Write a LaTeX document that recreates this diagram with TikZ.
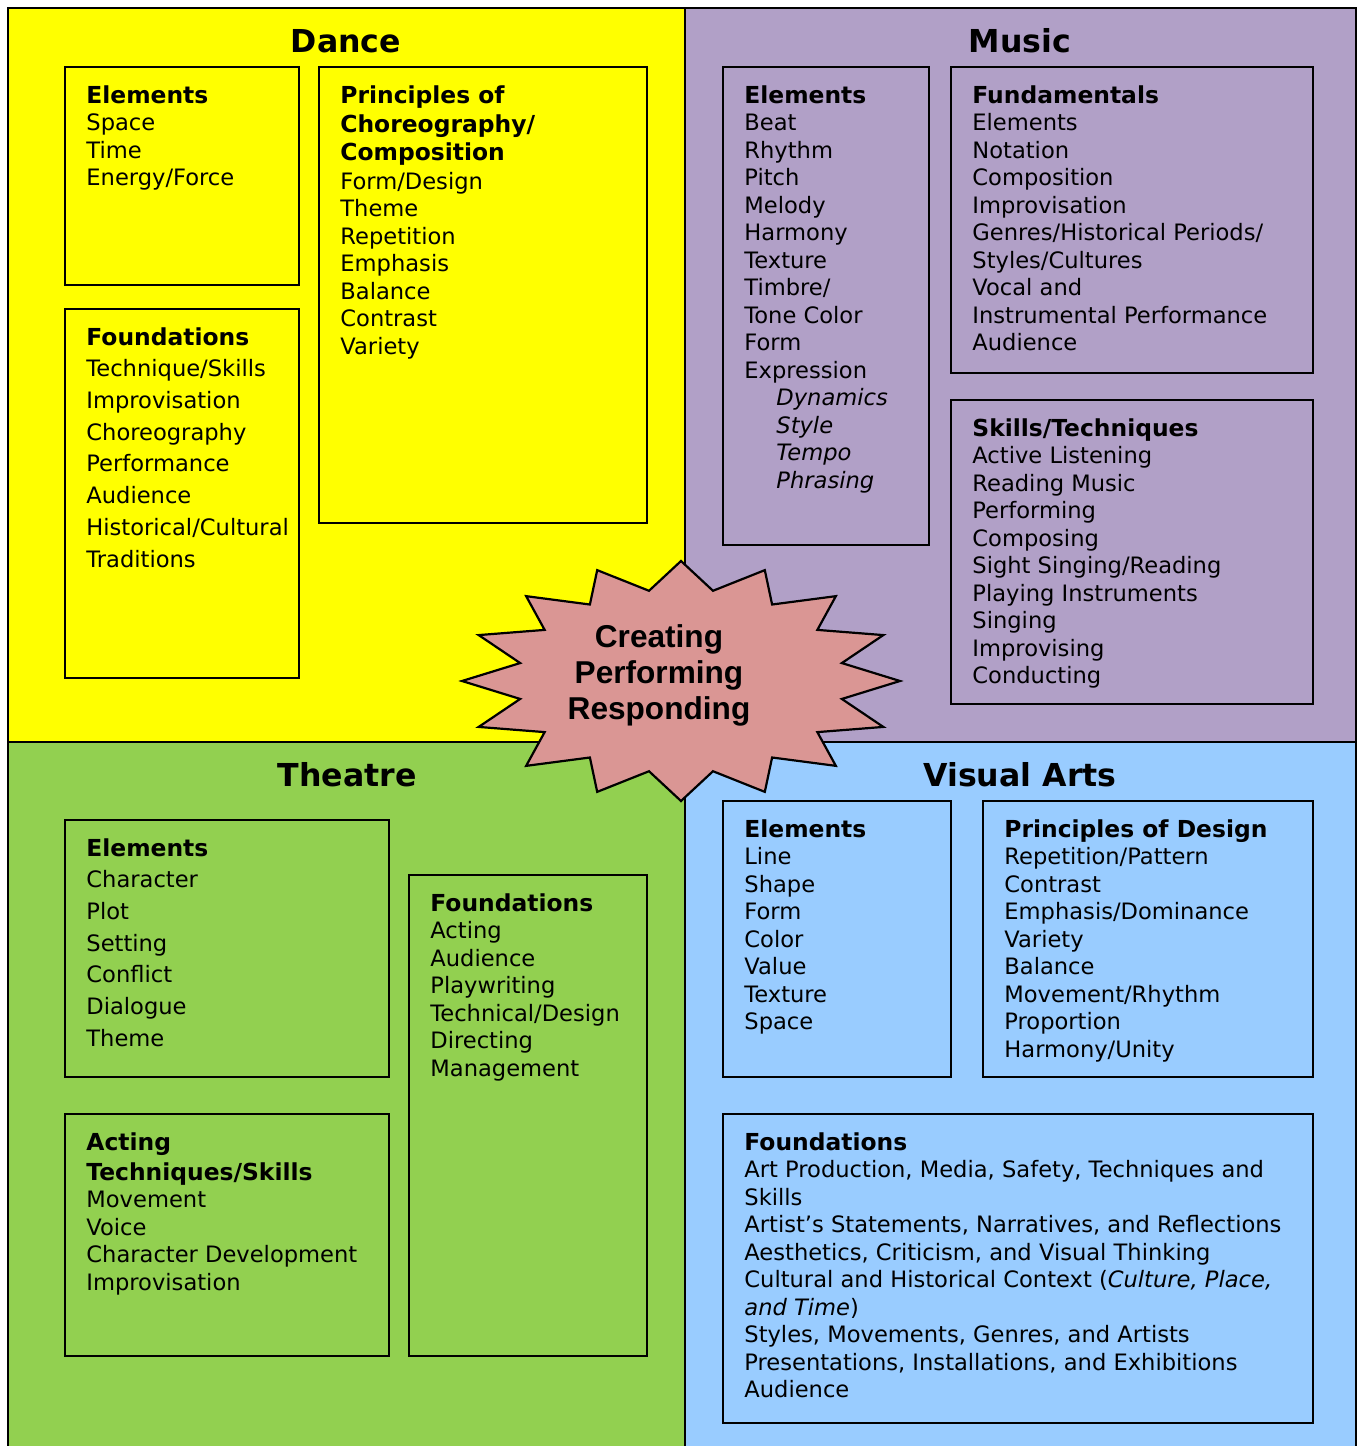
\documentclass[tikz,border=0pt]{standalone}
\usepackage{fontspec}
\setmainfont{DejaVu Sans}
\newfontfamily\hubfont{Liberation Sans}
\usetikzlibrary{positioning}

\definecolor{danceyellow}{HTML}{FFFF00}
\definecolor{musicpurple}{HTML}{B1A0C7}
\definecolor{theatregreen}{HTML}{92D050}
\definecolor{visualblue}{HTML}{99CCFF}
\definecolor{hubpink}{HTML}{DA9694}

% bold first lines of the boxes
\newcommand{\boxhead}[1]{{\fontsize{11.7}{13.75}\selectfont\bfseries #1}}

\begin{document}
\begin{tikzpicture}[x=0.5pt, y=-0.5pt,
		quad/.style={draw, line width=1.3pt},
		box/.style={draw, line width=1.1pt, inner sep=0pt, outer sep=0pt, anchor=north west},
		heading/.style={anchor=base, inner sep=0pt, font=\bfseries\fontsize{15.8}{18}\selectfont},
		list/.style={align=left, inner sep=0pt, font=\fontsize{11.3}{13.75}\selectfont},
		widelist/.style={list, font=\fontsize{11.3}{15.85}\selectfont},
		hubtext/.style={align=center, inner sep=0pt, font=\hubfont\bfseries\fontsize{15.8}{18}\selectfont}]
		
		\useasboundingbox (0,0) rectangle (1359,1446);
		
		% the four quarters
		\fill[danceyellow] (8,8) rectangle (685,742);
		\fill[musicpurple] (685,8) rectangle (1356,742);
		\fill[theatregreen] (8,742) rectangle (685,1460);
		\fill[visualblue] (685,742) rectangle (1356,1460);
		\draw[quad] (8,1460) -- (8,8) -- (1356,8) -- (1356,1460);
		\draw[quad] (685,8) -- (685,1460);
		\draw[quad] (8,742) -- (1356,742);
		
		% Dance
		\node[heading] (dance) at (346,52) {Dance};
		\node[box, minimum width=117pt, minimum height=109pt] (danceEl) at (65,67) {};
		\node[list, below right=9pt and 10.5pt of danceEl.north west]
		{\boxhead{Elements}\\Space\\Time\\Energy/Force};
		\node[box, minimum width=117pt, minimum height=184.5pt] (danceFd) at (65,309) {};
		\node[widelist, below right=9pt and 10.5pt of danceFd.north west]
		{\boxhead{Foundations}\\Technique/Skills\\Improvisation\\Choreography\\Performance\\Audience\\Historical/Cultural\\Traditions};
		\node[box, minimum width=164pt, minimum height=228pt] (dancePr) at (319,67) {};
		\node[list, below right=9pt and 10.5pt of dancePr.north west]
		{\boxhead{Principles of}\\[0.7pt]\boxhead{Choreography/}\\[0.7pt]\boxhead{Composition}\\[0.3pt]Form/Design\\Theme\\Repetition\\Emphasis\\Balance\\Contrast\\Variety};
		
		% Music
		\node[heading] (music) at (1020,52) {Music};
		\node[box, minimum width=103pt, minimum height=239pt] (musicEl) at (723,67) {};
		\node[list, below right=9pt and 10.5pt of musicEl.north west]
		{\boxhead{Elements}\\Beat\\Rhythm\\Pitch\\Melody\\Harmony\\Texture\\Timbre/\\Tone Color\\Form\\Expression\\
			\hspace*{16pt}\textit{Dynamics}\\\hspace*{16pt}\textit{Style}\\\hspace*{16pt}\textit{Tempo}\\\hspace*{16pt}\textit{Phrasing}};
		\node[box, minimum width=181pt, minimum height=153pt] (musicFu) at (951,67) {};
		\node[list, below right=9pt and 10.5pt of musicFu.north west]
		{\boxhead{Fundamentals}\\Elements\\Notation\\Composition\\Improvisation\\Genres/Historical Periods/\\Styles/Cultures\\Vocal and\\Instrumental Performance\\Audience};
		\node[box, minimum width=181pt, minimum height=152pt] (musicSk) at (951,400) {};
		\node[list, below right=9pt and 10.5pt of musicSk.north west]
		{\boxhead{Skills/Techniques}\\Active Listening\\Reading Music\\Performing\\Composing\\Sight Singing/Reading\\Playing Instruments\\Singing\\Improvising\\Conducting};
		
		% Theatre
		\node[heading] (theatre) at (347,786) {Theatre};
		\node[box, minimum width=162pt, minimum height=128.5pt] (theatreEl) at (65,820) {};
		\node[widelist, below right=9pt and 10.5pt of theatreEl.north west]
		{\boxhead{Elements}\\Character\\Plot\\Setting\\Conflict\\Dialogue\\Theme};
		\node[box, minimum width=162pt, minimum height=121pt] (theatreAc) at (65,1114) {};
		\node[list, below right=9pt and 10.5pt of theatreAc.north west]
		{\boxhead{Acting}\\[1.2pt]\boxhead{Techniques/Skills}\\Movement\\Voice\\Character Development\\Improvisation};
		\node[box, minimum width=119pt, minimum height=240.5pt] (theatreFd) at (409,875) {};
		\node[list, below right=9pt and 10.5pt of theatreFd.north west]
		{\boxhead{Foundations}\\Acting\\Audience\\Playwriting\\Technical/Design\\Directing\\Management};
		
		% Visual Arts
		\node[heading] (visual) at (1020,786) {Visual Arts};
		\node[box, minimum width=114pt, minimum height=138pt] (visualEl) at (723,801) {};
		\node[list, below right=9pt and 10.5pt of visualEl.north west]
		{\boxhead{Elements}\\Line\\Shape\\Form\\Color\\Value\\Texture\\Space};
		\node[box, minimum width=165pt, minimum height=138pt] (visualPr) at (983,801) {};
		\node[list, below right=9pt and 10.5pt of visualPr.north west]
		{\boxhead{Principles of Design}\\Repetition/Pattern\\Contrast\\Emphasis/Dominance\\Variety\\Balance\\Movement/Rhythm\\Proportion\\Harmony/Unity};
		\node[box, minimum width=295pt, minimum height=154.5pt] (visualFd) at (723,1114) {};
		\node[list, below right=9pt and 10.5pt of visualFd.north west]
		{\boxhead{Foundations}\\Art Production, Media, Safety, Techniques and\\Skills\\Artist’s Statements, Narratives, and Reflections\\Aesthetics, Criticism, and Visual Thinking\\
			Cultural and Historical Context (\textit{Culture, Place,}\\\textit{and Time})\\Styles, Movements, Genres, and Artists\\Presentations, Installations, and Exhibitions\\Audience};
		
		% the star in the middle
		\begin{scope}[shift={(681,681)}]
			\draw[line width=1.1pt, fill=hubpink, line join=miter] (219,0)
			\foreach \a in {0,22.5,...,337.5} {
				-- ({164*cos(\a+11.25)},{92*sin(\a+11.25)}) -- ({219*cos(\a+22.5)},{120*sin(\a+22.5)})
			} -- cycle;
		\end{scope}
		\node[hubtext] (hub) at (659,675) {Creating\\Performing\\Responding};
		
\end{tikzpicture}
\end{document}
